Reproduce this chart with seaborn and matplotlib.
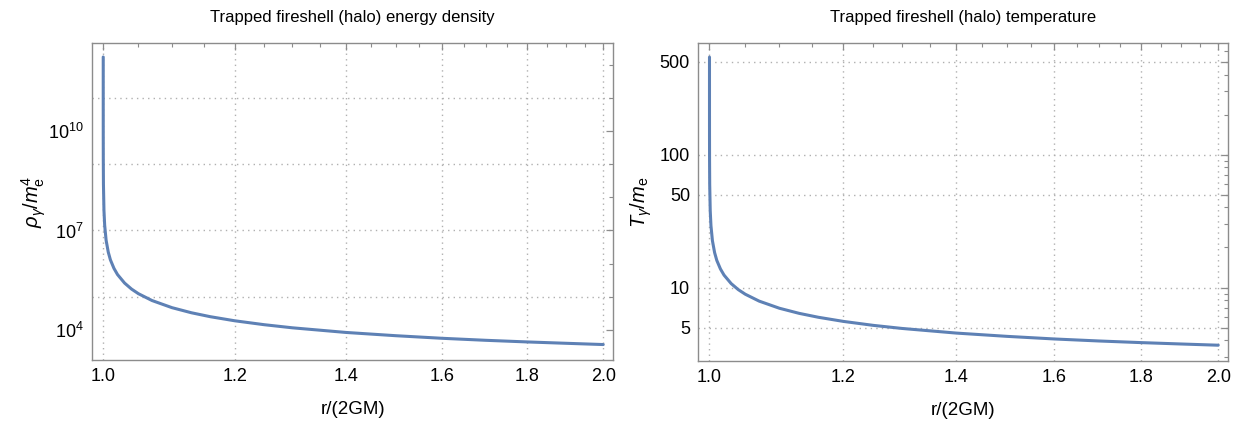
import matplotlib
matplotlib.use("Agg")
import matplotlib.pyplot as plt
import matplotlib.ticker as mticker
import seaborn as sns
import pandas as pd

# values (x = r/(2GM))
r_vals = [1.0000006, 1.000003, 1.00001, 1.00003, 1.0001, 1.0003, 1.001, 1.002,
          1.004, 1.007, 1.01, 1.015, 1.02, 1.03, 1.04, 1.05, 1.07, 1.1, 1.13,
          1.16, 1.2, 1.25, 1.3, 1.4, 1.5, 1.6, 1.7, 1.8, 1.9, 2.0]
rho_vals = [1.70e12, 2.49e11, 4.08e10, 7.83e9, 1.30e9, 2.46e8, 4.09e7, 1.44e7,
            5.07e6, 2.22e6, 1.30e6, 7.18e5, 4.68e5, 2.60e5, 1.71e5, 1.24e5,
            7.71e4, 4.70e4, 3.30e4, 2.51e4, 1.89e4, 1.44e4, 1.16e4, 8.41e3,
            6.71e3, 5.60e3, 4.87e3, 4.35e3, 3.96e3, 3.63e3]
T_vals = [541, 335, 213, 141, 90, 59.4, 37.9, 29.2, 22.5, 18.3, 16.0, 13.8,
          12.4, 10.7, 9.64, 8.90, 7.90, 6.98, 6.39, 5.97, 5.56, 5.19, 4.92,
          4.54, 4.29, 4.10, 3.96, 3.85, 3.76, 3.68]

x_ticks = [1.0, 1.2, 1.4, 1.6, 1.8, 2.0]
x_minor = [1.05, 1.1, 1.15, 1.25, 1.3, 1.35, 1.45, 1.5, 1.55, 1.65, 1.7, 1.75,
           1.85, 1.9, 1.95]
rho_ticks = [1e4, 1e7, 1e10]
rho_tick_labels = ["$10^{4}$", "$10^{7}$", "$10^{10}$"]
rho_minor = [1e5, 1e6, 1e8, 1e9, 1e11, 1e12]
rho_grid = [1e5, 1e7, 1e9, 1e11]
T_ticks = [5, 10, 50, 100, 500]
T_minor = [3, 4, 6, 7, 8, 9, 20, 30, 40, 60, 70, 80, 90, 200, 300, 400, 600]

titles = ["Trapped fireshell (halo) energy density",
          "Trapped fireshell (halo) temperature"]

sns.set_theme(style="white")
plt.rcParams["font.family"] = ["Liberation Sans", "DejaVu Sans"]
plt.rcParams["mathtext.fontset"] = "custom"
plt.rcParams["mathtext.rm"] = "Liberation Sans"
plt.rcParams["mathtext.it"] = "Liberation Sans:italic"
plt.rcParams["text.color"] = "black"
plt.rcParams["axes.labelcolor"] = "black"

line_color = "#5E81B5"
frame_color = "#8c8c8c"
grid_kw = dict(color="#b0b0b0", linestyle=(0, (1, 3)), linewidth=1.0)

df = pd.DataFrame({"r": r_vals, "rho": rho_vals, "T": T_vals})

fig = plt.figure(figsize=(12.45, 4.23), dpi=100)
ax1 = fig.add_axes([0.0741, 0.1489, 0.4182, 0.7487])
ax2 = fig.add_axes([0.5609, 0.1466, 0.4255, 0.7525])

sns.lineplot(data=df, x="r", y="rho", ax=ax1, color=line_color, linewidth=2.2,
             sort=False, estimator=None)
sns.lineplot(data=df, x="r", y="T", ax=ax2, color=line_color, linewidth=2.2,
             sort=False, estimator=None)

for ax, title in zip([ax1, ax2], titles):
    ax.set_xscale("log")
    ax.set_yscale("log")
    ax.set_xlim(0.9849, 2.027)
    ax.xaxis.set_major_locator(mticker.FixedLocator(x_ticks))
    ax.xaxis.set_major_formatter(mticker.FixedFormatter([f"{v:.1f}" for v in x_ticks]))
    ax.xaxis.set_minor_locator(mticker.FixedLocator(x_minor))
    ax.xaxis.set_minor_formatter(mticker.NullFormatter())
    ax.grid(axis="x", which="major", **grid_kw)
    ax.set_title(title, fontsize=12, pad=15, color="black")
    ax.set_xlabel("r/(2GM)", fontsize=13.5, labelpad=11)
    for s in ax.spines.values():
        s.set_color(frame_color)
        s.set_linewidth(1.0)
    ax.tick_params(which="both", direction="in", top=True, right=True,
                   color=frame_color, labelsize=13, labelcolor="black")
    ax.tick_params(which="major", length=5, width=0.9, pad=6)
    ax.tick_params(which="minor", length=3, width=0.8)

ax1.set_ylim(1.24e3, 4.4e12)
ax1.yaxis.set_major_locator(mticker.FixedLocator(rho_ticks))
ax1.yaxis.set_major_formatter(mticker.FixedFormatter(rho_tick_labels))
ax1.yaxis.set_minor_locator(mticker.FixedLocator(rho_minor))
ax1.yaxis.set_minor_formatter(mticker.NullFormatter())
for v in rho_grid:
    ax1.axhline(v, zorder=0, **grid_kw)
ax1.set_ylabel(r"$\rho_\gamma/m_\mathrm{e}^4$", fontsize=14.5, labelpad=0)

ax2.set_ylim(2.8, 695)
ax2.yaxis.set_major_locator(mticker.FixedLocator(T_ticks))
ax2.yaxis.set_major_formatter(mticker.FixedFormatter([str(v) for v in T_ticks]))
ax2.yaxis.set_minor_locator(mticker.FixedLocator(T_minor))
ax2.yaxis.set_minor_formatter(mticker.NullFormatter())
ax2.grid(axis="y", which="major", **grid_kw)
ax2.set_ylabel(r"$T_\gamma/m_\mathrm{e}$", fontsize=14.5, labelpad=4)

fig.savefig("out.png", dpi=100)
